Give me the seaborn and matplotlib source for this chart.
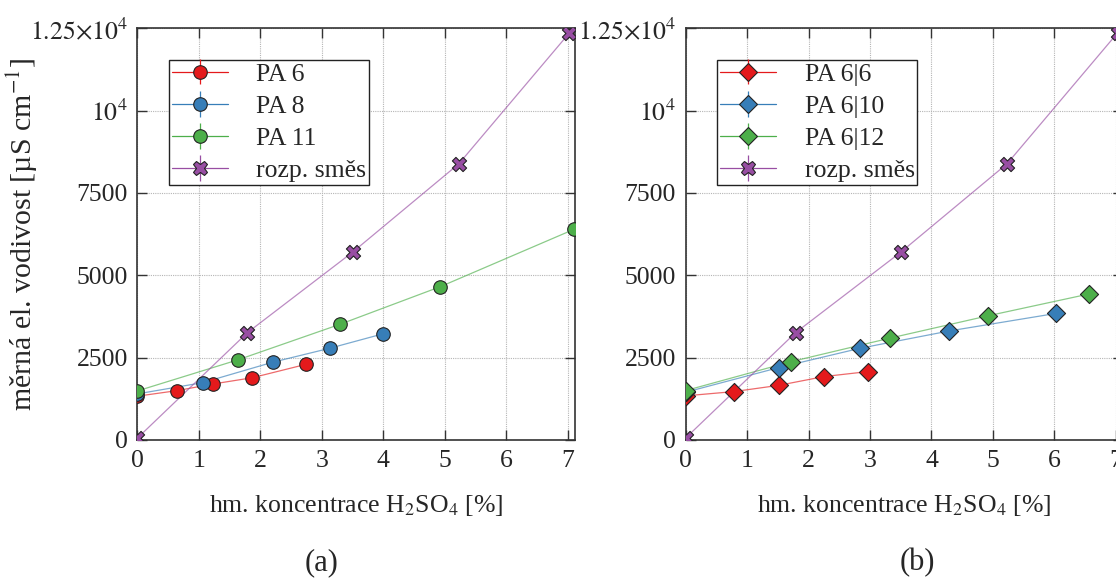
import matplotlib
matplotlib.use("Agg")
import matplotlib.pyplot as plt
import numpy as np
import pandas as pd
import seaborn as sns

# data
x_pa6 = [0, 0.65, 1.23, 1.87, 2.75]
y_pa6 = [1330, 1500, 1700, 1890, 2300]
x_pa8 = [0, 1.06, 2.20, 3.13, 3.99]
y_pa8 = [1400, 1740, 2360, 2785, 3220]
x_pa11 = [0, 1.63, 3.30, 4.93, 7.11]
y_pa11 = [1490, 2430, 3515, 4655, 6400]
x_mix = [0, 1.79, 3.50, 5.23, 7.03]
y_mix = [60, 3260, 5700, 8385, 12360]

x_pa66 = [0, 0.79, 1.52, 2.25, 2.96]
y_pa66 = [1340, 1470, 1660, 1925, 2075]
x_pa610 = [0, 1.52, 2.84, 4.29, 6.02]
y_pa610 = [1450, 2200, 2785, 3310, 3840]
x_pa612 = [0, 1.72, 3.32, 4.92, 6.57]
y_pa612 = [1500, 2380, 3090, 3770, 4435]

x_ticks = [0, 1, 2, 3, 4, 5, 6, 7]
y_ticks = [0, 2500, 5000, 7500, 10000, 12500]
y_ticklabels = ['0', '2500', '5000', '7500', r'$10^4$', r'$1.25{\times}10^4$']

RED, BLUE, GREEN, PURPLE = '#e41a1c', '#377eb8', '#4daf4a', '#984ea3'
FS = 18.5

sns.set_style('ticks')
plt.rcParams['font.family'] = ['Liberation Serif', 'DejaVu Serif']
plt.rcParams['mathtext.fontset'] = 'stix'

fig = plt.figure(figsize=(11.16, 5.78), dpi=100)
ax_a = fig.add_axes([0.1232, 0.2388, 0.392, 0.7123])
ax_b = fig.add_axes([0.6144, 0.2388, 0.392, 0.7123])


def draw_series(ax, xs, ys, label, color, marker, size):
    df = pd.DataFrame({'x': xs, 'y': ys})
    sns.lineplot(data=df, x='x', y='y', ax=ax, color=color, lw=0.9, alpha=0.65,
                 sort=False, legend=False, zorder=3)
    sns.scatterplot(data=df, x='x', y='y', ax=ax, color=color, marker=marker,
                    s=size, edgecolor='#222222', linewidth=0.8, legend=False, zorder=4)
    # legend proxy with the little error-bar cross
    ax.errorbar([np.nan], [np.nan], yerr=[1], color=color, marker=marker,
                ms=np.sqrt(size), mfc=color, mec='#222222', mew=0.8, lw=0.9,
                elinewidth=0.9, label=label)


def style_axes(ax):
    ax.set_xlim(0, 7.12)
    ax.set_ylim(0, 12500)
    ax.set_xticks(x_ticks)
    ax.set_yticks(y_ticks)
    ax.set_yticklabels(y_ticklabels)
    ax.grid(True, color='#b5b5b5', linestyle=(0, (1, 1)), lw=0.8, zorder=0)
    ax.set_axisbelow(True)
    for sp in ax.spines.values():
        sp.set_visible(True)
        sp.set_color('#333333')
        sp.set_linewidth(1.2)
    ax.tick_params(direction='in', length=7, width=1.0, color='#333333',
                   top=True, right=True, labelsize=FS, pad=7)
    ax.set_xlabel(r'hm. koncentrace H$_\mathrm{2}$SO$_\mathrm{4}$ [%]', fontsize=FS, labelpad=15)
    ax.set_ylabel('')
    leg = ax.legend(loc='upper left', bbox_to_anchor=(0.072, 0.923), borderaxespad=0,
                    fontsize=FS, handlelength=2.2, handletextpad=1.1, labelspacing=0.36,
                    fancybox=False, framealpha=1, edgecolor='#222222', borderpad=0.1)
    leg.get_frame().set_linewidth(1.0)


draw_series(ax_a, x_pa6, y_pa6, 'PA 6', RED, 'o', 95)
draw_series(ax_a, x_pa8, y_pa8, 'PA 8', BLUE, 'o', 95)
draw_series(ax_a, x_pa11, y_pa11, 'PA 11', GREEN, 'o', 95)
draw_series(ax_a, x_mix, y_mix, 'rozp. směs', PURPLE, 'X', 105)
style_axes(ax_a)

draw_series(ax_b, x_pa66, y_pa66, 'PA 6|6', RED, 'D', 85)
draw_series(ax_b, x_pa610, y_pa610, 'PA 6|10', BLUE, 'D', 85)
draw_series(ax_b, x_pa612, y_pa612, 'PA 6|12', GREEN, 'D', 85)
draw_series(ax_b, x_mix, y_mix, 'rozp. směs', PURPLE, 'X', 105)
style_axes(ax_b)

ax_a.set_ylabel(r'měrná el. vodivost [µS cm$^{-1}$]', fontsize=21.5)
ax_a.yaxis.set_label_coords(-0.222, 0.5)

fig.text(322 / 1116, 1 - 563 / 578, '(a)', fontsize=22, ha='center', va='center')
fig.text(917 / 1116, 1 - 563 / 578, '(b)', fontsize=22, ha='center', va='center')

fig.savefig('out.png', dpi=100)
